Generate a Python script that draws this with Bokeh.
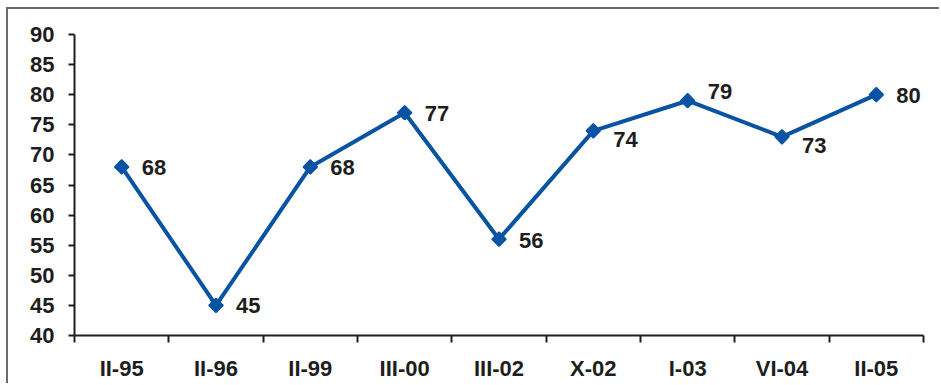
import math
from bokeh.plotting import figure
from bokeh.models import FixedTicker, Range1d, ColumnDataSource
from bokeh.embed import file_html
from bokeh.resources import INLINE
from bokeh.core.properties import value

categories = ["II-95", "II-96", "II-99", "III-00", "III-02", "X-02", "I-03", "VI-04", "II-05"]
values = [68, 45, 68, 77, 56, 74, 79, 73, 80]
y_ticks = [40, 45, 50, 55, 60, 65, 70, 75, 80, 85, 90]
label_dy = [1, 0, 1, 1, 1, 9, -9, 9, 1]  # pixel nudges for labels (style)

n = len(categories)
xs = [i + 0.5 for i in range(n)]

FONT = "Liberation Sans"
BLUE = "#0953A3"
DARK = "#1e1e1e"
FS = "22px"

p = figure(width=933, height=376, output_backend="svg", toolbar_location=None,
           x_range=Range1d(0, n), y_range=Range1d(y_ticks[0], y_ticks[-1]),
           min_border_left=66, min_border_top=25, min_border_right=18, min_border_bottom=50)
p.margin = (7, 0, 0, 6)
p.styles = {"border-left": "2px solid #6a6a6a", "border-top": "2px solid #6a6a6a"}
p.grid.visible = False
p.outline_line_color = None
p.background_fill_color = "white"
p.border_fill_color = "white"

src = ColumnDataSource(dict(x=xs, y=values, lab=[str(v) for v in values], dy=label_dy))
p.line("x", "y", source=src, line_color=BLUE, line_width=4)
p.scatter("x", "y", source=src, marker="square", angle=math.pi / 4, size=10,
          fill_color=BLUE, line_color=BLUE, line_width=1.5)
p.text("x", "y", text="lab", source=src, x_offset=20, y_offset="dy",
       text_font=value(FONT), text_font_style="bold", text_font_size=FS,
       text_color=DARK, text_baseline="middle", text_align="left")

# axes
xa = p.xaxis[0]
xa.ticker = FixedTicker(ticks=xs, minor_ticks=list(range(n + 1)))
xa.major_label_overrides = {x: c for x, c in zip(xs, categories)}
xa.major_tick_out = 0
xa.major_tick_in = 0
xa.minor_tick_out = 7
xa.minor_tick_in = 0
xa.minor_tick_line_color = DARK
xa.minor_tick_line_width = 2
xa.axis_line_color = DARK
xa.axis_line_width = 2
xa.major_label_standoff = 13
xa.major_label_text_font = FONT
xa.major_label_text_font_style = "bold"
xa.major_label_text_font_size = FS
xa.major_label_text_color = DARK

ya = p.yaxis[0]
ya.ticker = FixedTicker(ticks=y_ticks)
ya.major_tick_out = 6
ya.major_tick_in = 0
ya.major_tick_line_color = DARK
ya.major_tick_line_width = 2
ya.minor_tick_out = 0
ya.minor_tick_in = 0
ya.axis_line_color = DARK
ya.axis_line_width = 2
ya.major_label_standoff = 14
ya.major_label_text_font = FONT
ya.major_label_text_font_style = "bold"
ya.major_label_text_font_size = FS
ya.major_label_text_color = DARK

open("out.html", "w").write(file_html(p, INLINE))
